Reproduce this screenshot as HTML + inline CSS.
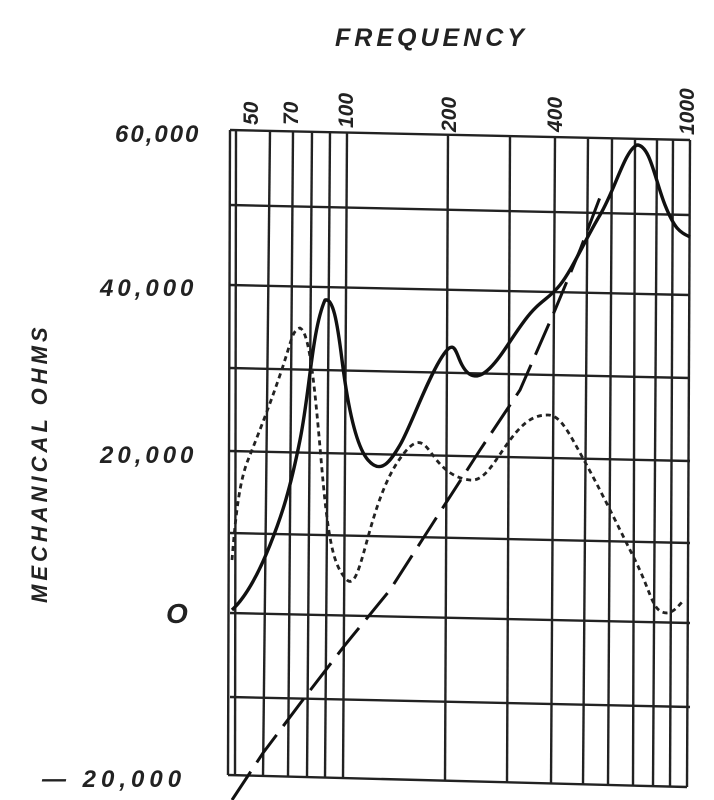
<!DOCTYPE html>
<html><head><style>
html,body{margin:0;padding:0;background:#fff;}
svg{display:block;}
text{font-family:"Liberation Sans",sans-serif;font-style:italic;font-weight:bold;fill:#222;}
</style></head><body>
<svg width="714" height="800" viewBox="0 0 714 800" xmlns="http://www.w3.org/2000/svg">
<g stroke="#222" stroke-width="2.4" fill="none">
<line x1="230" y1="130" x2="228" y2="775"/>
<line x1="236" y1="130" x2="235" y2="776"/>
<line x1="270" y1="131" x2="263" y2="777"/>
<line x1="293" y1="132" x2="288" y2="777"/>
<line x1="312" y1="132" x2="307" y2="778"/>
<line x1="330" y1="132" x2="325" y2="778"/>
<line x1="347" y1="133" x2="343" y2="779"/>
<line x1="448" y1="135" x2="445" y2="781"/>
<line x1="510" y1="137" x2="507" y2="783"/>
<line x1="555" y1="138" x2="551" y2="784"/>
<line x1="588" y1="139" x2="583" y2="785"/>
<line x1="612" y1="139" x2="608" y2="785"/>
<line x1="635" y1="140" x2="633" y2="786"/>
<line x1="657" y1="140" x2="653" y2="786"/>
<line x1="673" y1="140" x2="670" y2="787"/>
<line x1="690" y1="140" x2="687" y2="787"/>
<line x1="230" y1="130" x2="690" y2="140"/>
<line x1="230" y1="205" x2="690" y2="215"/>
<line x1="230" y1="285" x2="690" y2="295"/>
<line x1="230" y1="368" x2="690" y2="378"/>
<line x1="230" y1="451" x2="690" y2="461"/>
<line x1="230" y1="533" x2="690" y2="543"/>
<line x1="230" y1="613" x2="690" y2="623"/>
<line x1="230" y1="697" x2="690" y2="707"/>
<line x1="228" y1="775" x2="687" y2="787"/>
</g>
<path fill="none" stroke="#111" stroke-width="3.4" stroke-linejoin="round" d="M232,610 C245,598 258,575 270,545 S290,490 300,440 S312,330 325,300 C333,298 337,320 342,360 S355,445 368,460 S390,462 400,445 S425,385 440,360 S455,352 462,365 S478,380 490,368 S510,340 525,320 S548,300 560,285 S585,240 600,215 S625,150 637,145 C650,145 655,180 665,205 S680,232 690,237"/>
<path fill="none" stroke="#222" stroke-width="2.8" stroke-dasharray="5,4" d="M232,560 C236,510 240,480 248,460 S268,410 280,375 S292,330 300,328 C310,332 315,390 322,470 S335,565 345,578 S360,565 370,530 S390,470 405,452 S425,445 435,458 S455,478 470,480 S495,460 510,440 S535,415 548,415 S570,435 585,462 S620,530 635,560 S652,608 662,612 S678,606 684,600"/>
<path fill="none" stroke="#111" stroke-width="3" stroke-dasharray="34,11" d="M232,800 L263,753 L305,697 L345,645 L390,590 L433,523 L480,450 L520,390 L555,310 L580,250 L602,192"/>
<text x="335" y="46" font-size="25" letter-spacing="4">FREQUENCY</text>
<text x="115" y="142" font-size="24" letter-spacing="2">60,000</text>
<text x="100" y="296" font-size="24" letter-spacing="4">40,000</text>
<text x="100" y="463" font-size="24" letter-spacing="4">20,000</text>
<text x="166" y="623" font-size="28">O</text>
<text x="42" y="787" font-size="24" letter-spacing="5">— 20,000</text>
<text transform="translate(47,603) rotate(-90)" font-size="22" letter-spacing="4">MECHANICAL OHMS</text>
<text transform="translate(258,125) rotate(-90)" font-size="21">50</text>
<text transform="translate(298,125) rotate(-90)" font-size="21">70</text>
<text transform="translate(353,128) rotate(-90)" font-size="21">100</text>
<text transform="translate(456,132) rotate(-90)" font-size="21">200</text>
<text transform="translate(562,132) rotate(-90)" font-size="21">400</text>
<text transform="translate(694,135) rotate(-90)" font-size="21">1000</text>
</svg>
</body></html>
